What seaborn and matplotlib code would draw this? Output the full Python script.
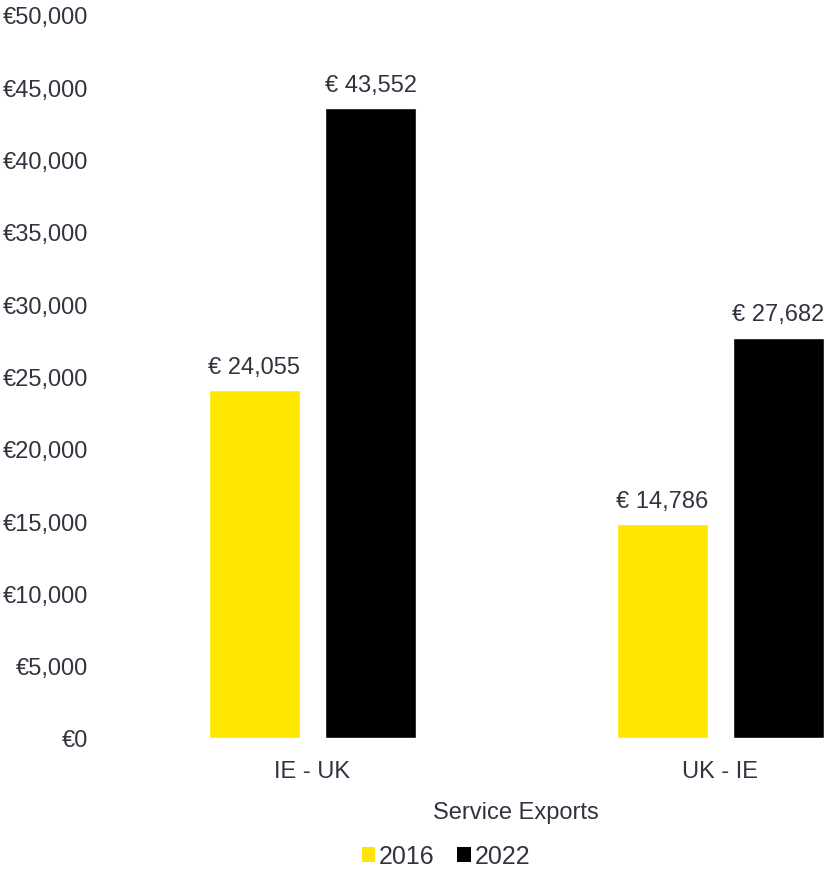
import matplotlib
matplotlib.use("Agg")
import matplotlib.pyplot as plt
import seaborn as sns
import pandas as pd
from matplotlib.patches import Patch
from matplotlib.ticker import FuncFormatter

categories = ["IE - UK", "UK - IE"]
years = ["2016", "2022"]
values_2016 = [24055, 14786]
values_2022 = [43552, 27682]
colors = ["#FFE600", "#000000"]
yticks = [0, 5000, 10000, 15000, 20000, 25000, 30000, 35000, 40000, 45000, 50000]

df = pd.DataFrame({
    "Flow": categories * 2,
    "Year": [years[0]] * 2 + [years[1]] * 2,
    "Value": values_2016 + values_2022,
})

sns.set_style("white")
plt.rcParams["font.family"] = ["Liberation Sans", "DejaVu Sans"]
text_color = "#333340"
fs = 17

W, H = 826, 870
fig = plt.figure(figsize=(W / 100, H / 100), dpi=100)
left_px, right_px = 108.5, 826
bottom_px, top_px = 739, 16
ax = fig.add_axes([left_px / W, (H - bottom_px) / H, (right_px - left_px) / W, (bottom_px - top_px) / H])

sns.barplot(data=df, x="Flow", y="Value", hue="Year", palette=colors,
            width=0.569, gap=0.215, ax=ax, legend=False, saturation=1)

ax.set_xlim(-0.5, (826 - 312.5) / 408)
ax.set_ylim(0, 50000)
ax.set_yticks(yticks)
ax.yaxis.set_major_formatter(FuncFormatter(lambda v, p: f"€{v:,.0f}"))
ax.tick_params(axis="y", length=0, pad=14.4, labelsize=fs, labelcolor=text_color)
ax.tick_params(axis="x", length=0, pad=16, labelsize=fs, labelcolor=text_color)
ax.set_ylabel("")
ax.set_xlabel("Service Exports", fontsize=fs, color=text_color)
ax.xaxis.set_label_coords((516 - left_px) / (right_px - left_px),
                          -(813 - 739) / (bottom_px - top_px), transform=ax.transAxes)
ax.xaxis.label.set_verticalalignment("center")
for s in ax.spines.values():
    s.set_visible(False)
ax.grid(False)

for cont in ax.containers:
    ax.bar_label(cont, labels=[f"€ {v:,.0f}" for v in cont.datavalues],
                 padding=9, fontsize=fs, color=text_color, clip_on=False)

handles = [Patch(facecolor=c, edgecolor="none") for c in colors]
fig.legend(handles, years, loc="center", bbox_to_anchor=(446 / W, 1 - 857 / H),
           ncol=2, frameon=False, fontsize=18, handlelength=0.55, handleheight=0.55,
           handletextpad=0.15, columnspacing=0.9, labelcolor=text_color)

fig.savefig("out.png", dpi=100)
